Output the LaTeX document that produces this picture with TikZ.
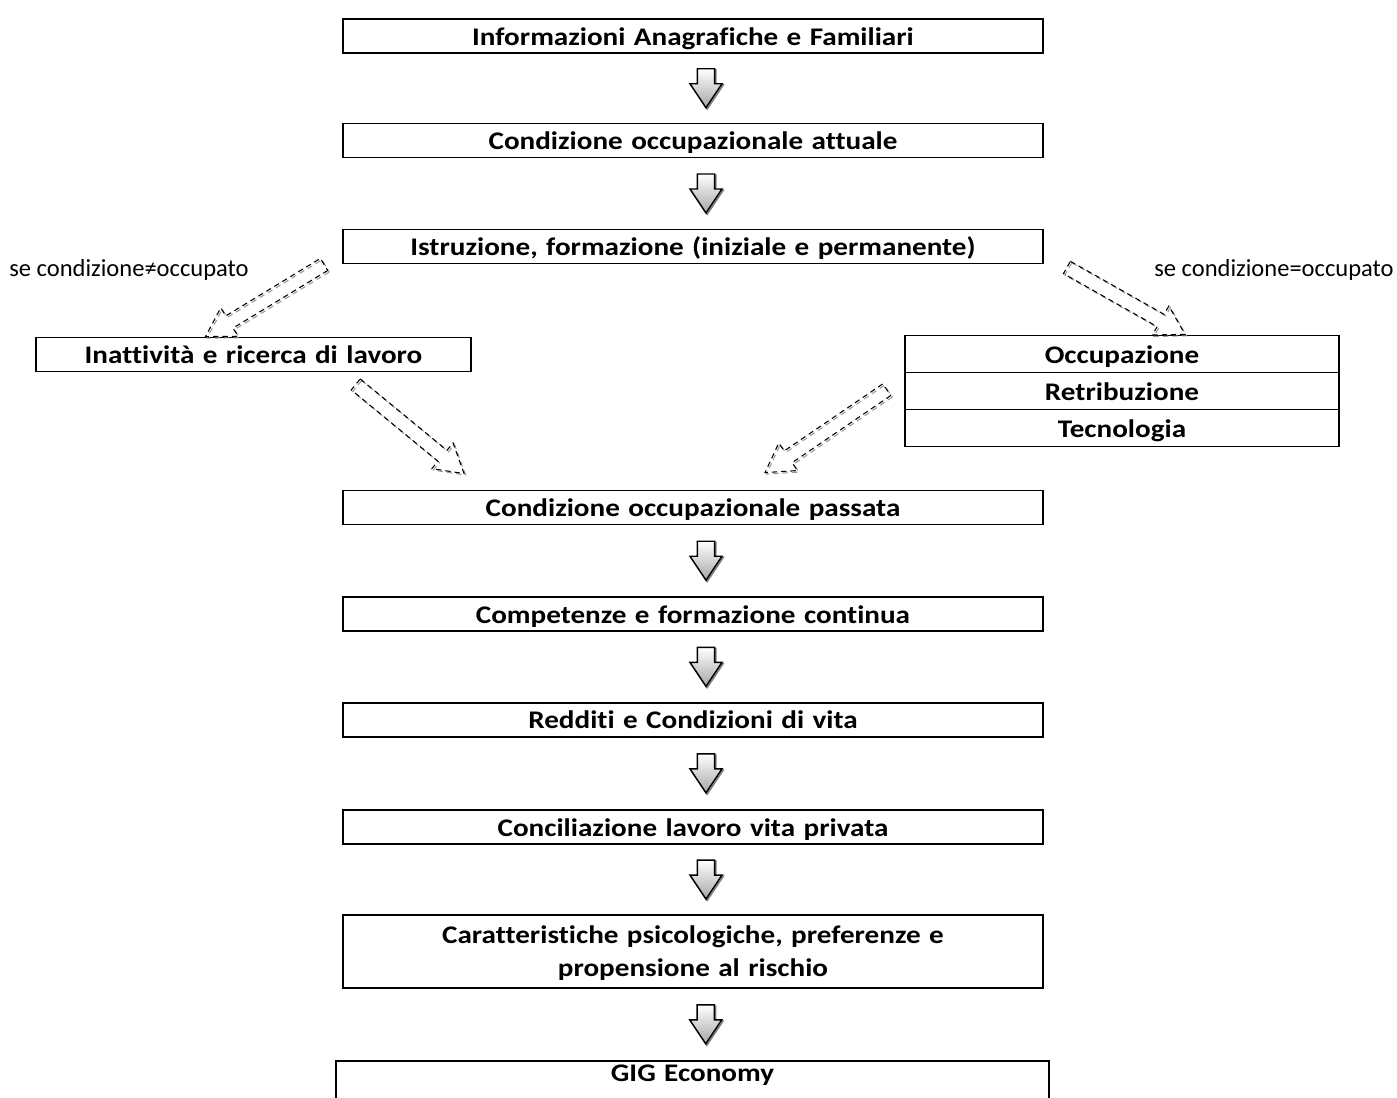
\documentclass[tikz,border=0pt]{standalone}
\usepackage{fontspec}
\setmainfont[Ligatures=NoCommon]{Carlito}
\newfontfamily\boxfont[Ligatures=NoCommon,FakeStretch=1.15]{Carlito}
\usetikzlibrary{positioning,calc,matrix}

% block arrow from tail #2 to tip #3, half shaft #4, half head #5, head length #6
\newcommand{\blockarrow}[6]{%
    \coordinate (hc) at ($(#3)!#6!(#2)$);
    \path[#1] ($(#2)!#4!90:(#3)$) -- ($(hc)!#4!90:(#3)$) -- ($(hc)!#5!90:(#3)$) -- (#3)
        -- ($(hc)!#5!-90:(#3)$) -- ($(hc)!#4!-90:(#3)$) -- ($(#2)!#4!-90:(#3)$) -- cycle;
}
% grey down arrow between two boxes
\newcommand{\flowarrow}[2]{%
    \coordinate (mid) at ($(#1.south)!0.5!(#2.north)$);
    \coordinate (tail) at ($(mid)+(13,-19.5)$);
    \coordinate (tip) at ($(mid)+(13,19.5)$);
    \coordinate (tail shadow) at ($(tail)+(1.2,1.2)$);
    \coordinate (tip shadow) at ($(tip)+(1.2,1.2)$);
    \blockarrow{draw=black!50,line width=1.2pt}{tail shadow}{tip shadow}{6.4pt}{12pt}{18pt}
    \blockarrow{draw,line width=1.1pt,top color=white,bottom color=black!35}{tail}{tip}{6.4pt}{12pt}{18pt}
}
% dashed branch arrow
\newcommand{\brancharrow}[2]{%
    \coordinate (tail shadow) at ($(#1)+(1.5,1.5)$);
    \coordinate (tip shadow) at ($(#2)+(1.5,1.5)$);
    \blockarrow{branch line,draw=black!40}{tail shadow}{tip shadow}{5.3pt}{12.5pt}{21pt}
    \blockarrow{branch line}{#1}{#2}{5.3pt}{12.5pt}{21pt}
}

\begin{document}
\begin{tikzpicture}
    [x=0.75pt,y=-0.75pt,
    box/.style={
        draw,
        line width=1.4pt,
        font=\boxfont\bfseries\fontsize{19}{25}\selectfont,
        align=center,
        text width=#1,
        inner sep=0pt,
        text height=18.5pt,
        text depth=5pt,
        minimum height=25.5pt
    },
    box/.default={525pt},
    row/.style={box={325.5pt}, minimum height=27.75pt},
    note/.style={font=\fontsize{18.4}{22}\selectfont,inner sep=0pt},
    branch line/.style={draw,line width=0.8pt,dash pattern=on 4pt off 3pt}]

    \useasboundingbox (0,0) rectangle (1397,1097);

    %%% boxes
    \node (info) [box] at (693,36) {Informazioni Anagrafiche e Familiari};
    \node (attuale) [box] at (693,140.5) {Condizione occupazionale attuale};
    \node (istruzione) [box] at (693,246.5) {Istruzione, formazione (iniziale e permanente)};
    \node (inattivita) [box={326pt}] at (253.5,354.5) {Inattività e ricerca di lavoro};

    \matrix (job) [matrix of nodes, inner sep=0pt, row sep=-1.4pt,
        nodes={row}] at (1122,391) {
        Occupazione\\
        Retribuzione\\
        Tecnologia\\
    };

    \node (passata) [box] at (693,507.5) {Condizione occupazionale passata};
    \node (competenze) [box] at (693,614) {Competenze e formazione continua};
    \node (redditi) [box] at (693,719.7) {Redditi e Condizioni di vita};
    \node (conciliazione) [box] at (693,827) {Conciliazione lavoro vita privata};
    \node (psico) [box, text height=18pt, text depth=30.3pt, minimum height=54.5pt] at (693,951.5)
        {Caratteristiche psicologiche, preferenze e\\propensione al rischio};
    \node (gig) [box={535pt}, text height=15.75pt, text depth=14pt, anchor=north] at (692.5,1060) {GIG Economy};

    %% notes
    \node (note no) [note] at (129,270) {se condizione≠occupato};
    \node (note yes) [note] at (1274,270) {se condizione=occupato};

    %% arrows
    \flowarrow{info}{attuale}
    \flowarrow{attuale}{istruzione}
    \flowarrow{passata}{competenze}
    \flowarrow{competenze}{redditi}
    \flowarrow{redditi}{conciliazione}
    \flowarrow{conciliazione}{psico}
    \flowarrow{psico}{gig}

    \coordinate (no from) at ($(istruzione.south west)+(-18,0)$);
    \coordinate (no to) at ($(inattivita.north)+(-48,0)$);
    \coordinate (yes from) at ($(istruzione.south east)+(23,3)$);
    \coordinate (yes to) at ($(job.north)+(63,0)$);
    \coordinate (back from) at ($(inattivita.south east)+(-116,12)$);
    \coordinate (back to) at ($(passata.north west)+(122,-16)$);
    \coordinate (job from) at ($(job.south west)+(-17,-58)$);
    \coordinate (job to) at ($(passata.north)+(72,-17)$);
    \brancharrow{no from}{no to}
    \brancharrow{yes from}{yes to}
    \brancharrow{back from}{back to}
    \brancharrow{job from}{job to}
\end{tikzpicture}
\end{document}
